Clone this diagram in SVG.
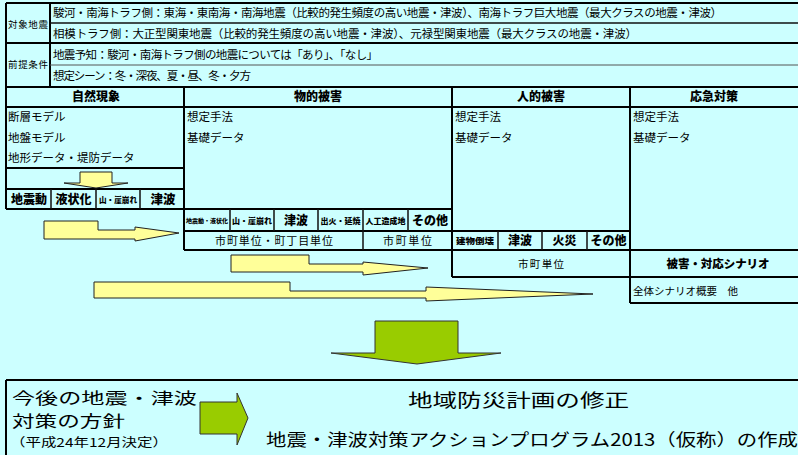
<svg xmlns="http://www.w3.org/2000/svg" width="798" height="455" viewBox="0 0 798 455">
<style>
.t{font-family:'Noto Sans CJK JP','Noto Sans CJK SC',sans-serif;fill:#000}
.s{font-size:11.5px}
.b{font-weight:900}
.c{text-anchor:middle}
.ln{stroke:#000;stroke-width:2;fill:none}
.mn{stroke:#111;stroke-width:1.5;fill:none}
.lt{stroke:#555;stroke-width:1;fill:none}
.ya{fill:#ffff99;stroke:#222;stroke-width:1}
.ga{fill:#99cc00;stroke:#333;stroke-width:1}
</style>
<rect x="0" y="0" width="798" height="455" fill="#ccffff"/>

<g id="grid">
<path class="ln" d="M6,3H798M6,43H798M6,87H798M6,107H798M6,3V209M50,3V87M184,87V250M452,87V277M630,87V303"/>
<path class="mn" d="M50,23H798"/>
<path class="lt" d="M50,65H798"/>
<path class="ln" d="M6,168H184M6,189H184M6,209H452M184,231H630M184,250H798M452,277H798M630,303H798"/>
<path class="mn" d="M51,189V209M96,189V209M140,189V209M230,209V231M274,209V231M318,209V231M363,209V231M408,209V231M363,231V250M498,231V250M542,231V250M587,231V250"/>
<path class="ln" d="M6,380H798M6,380V455" stroke-width="2.5"/>
</g>

<g id="target-quakes">
<text class="t c" x="28" y="28" font-size="9.5" textLength="40">対象地震</text>
<text class="t s" x="53" y="17" textLength="669" lengthAdjust="spacing">駿河・南海トラフ側：東海・東南海・南海地震（比較的発生頻度の高い地震・津波）、南海トラフ巨大地震（最大クラスの地震・津波）</text>
<text class="t s" x="53" y="38" textLength="584" lengthAdjust="spacing">相模トラフ側：大正型関東地震（比較的発生頻度の高い地震・津波）、元禄型関東地震（最大クラスの地震・津波）</text>
</g>

<g id="premises">
<text class="t c" x="28" y="68" font-size="9.5" textLength="40">前提条件</text>
<text class="t s" x="53" y="59" textLength="325" lengthAdjust="spacing">地震予知：駿河・南海トラフ側の地震については「あり」、「なし」</text>
<text class="t s" x="53" y="80" textLength="198" lengthAdjust="spacing">想定シーン：冬・深夜、夏・昼、冬・夕方</text>
</g>

<g id="natural">
<text class="t b c" x="96" y="101" font-size="12">自然現象</text>
<text class="t s" x="8" y="121">断層モデル</text>
<text class="t s" x="8" y="142">地盤モデル</text>
<text class="t s" x="8" y="162">地形データ・堤防データ</text>
<path class="ya" d="M80,172H112V183H128L96,188L64,183H80Z"/>
<text class="t b c" x="29" y="204" font-size="12">地震動</text>
<text class="t b c" x="73.5" y="204" font-size="12">液状化</text>
<text class="t b c" x="118" y="203" font-size="7.5" textLength="38" lengthAdjust="spacingAndGlyphs">山・崖崩れ</text>
<text class="t b c" x="163" y="204" font-size="12.5">津波</text>
</g>

<g id="physical">
<text class="t b c" x="318" y="101" font-size="12">物的被害</text>
<text class="t s" x="187" y="121">想定手法</text>
<text class="t s" x="187" y="142">基礎データ</text>
<text class="t b c" x="207" y="223" font-size="5.5" textLength="42" lengthAdjust="spacingAndGlyphs">地震動・液状化</text>
<text class="t b c" x="252" y="224" font-size="7.5" textLength="40" lengthAdjust="spacingAndGlyphs">山・崖崩れ</text>
<text class="t b c" x="296" y="225" font-size="12">津波</text>
<text class="t b c" x="340.5" y="224" font-size="7.5" textLength="40" lengthAdjust="spacingAndGlyphs">出火・延焼</text>
<text class="t b c" x="385.5" y="224" font-size="7.5" textLength="40" lengthAdjust="spacingAndGlyphs">人工造成地</text>
<text class="t b c" x="430" y="225" font-size="12">その他</text>
<text class="t c" x="274" y="245" font-size="11" textLength="118" lengthAdjust="spacing">市町単位・町丁目単位</text>
<text class="t c" x="407.5" y="245" font-size="11" textLength="49" lengthAdjust="spacing">市町単位</text>
</g>

<g id="human">
<text class="t b c" x="541" y="101" font-size="12">人的被害</text>
<text class="t s" x="455" y="121">想定手法</text>
<text class="t s" x="455" y="142">基礎データ</text>
<text class="t b c" x="475" y="244" font-size="8" textLength="38" lengthAdjust="spacingAndGlyphs">建物倒壊</text>
<text class="t b c" x="520" y="245" font-size="12">津波</text>
<text class="t b c" x="564.5" y="245" font-size="12">火災</text>
<text class="t b c" x="608.5" y="245" font-size="12">その他</text>
<text class="t c" x="541" y="268" font-size="10.5" textLength="46" lengthAdjust="spacing">市町単位</text>
</g>

<g id="response">
<text class="t b c" x="714" y="101" font-size="12">応急対策</text>
<text class="t s" x="633" y="121">想定手法</text>
<text class="t s" x="633" y="142">基礎データ</text>
<text class="t b c" x="718" y="268" font-size="11.5" textLength="103" lengthAdjust="spacing">被害・対応シナリオ</text>
<text class="t" x="633" y="295" font-size="10.5">全体シナリオ概要　他</text>
</g>

<g id="connectors">
<path class="ya" d="M44,221H98V230H135V227L179,233L135,241V239H44Z"/>
<path class="ya" d="M231,255H309V264H363V262L428,268L363,275V272H231Z"/>
<path class="ya" d="M94,282H290V291H426V287L593,294L426,301V298H94Z"/>
<path class="ga" d="M375,321H458V353H501L417,364L331,353H375Z"/>
<path class="ga" d="M200,402H237V393L248,418L237,445V434H200Z"/>
</g>

<g id="policy">
<text class="t" x="12" y="404" font-size="15.5" textLength="185" lengthAdjust="spacingAndGlyphs">今後の地震・津波</text>
<text class="t" x="12" y="427" font-size="15.5" textLength="113" lengthAdjust="spacingAndGlyphs">対策の方針</text>
<text class="t" x="10" y="447" font-size="12" textLength="158" lengthAdjust="spacingAndGlyphs">（平成24年12月決定）</text>
</g>

<g id="plans">
<text class="t" x="408" y="407" font-size="18" textLength="221" lengthAdjust="spacingAndGlyphs">地域防災計画の修正</text>
<text class="t" x="266" y="446" font-size="17" textLength="532" lengthAdjust="spacingAndGlyphs">地震・津波対策アクションプログラム2013（仮称）の作成</text>
</g>
</svg>
